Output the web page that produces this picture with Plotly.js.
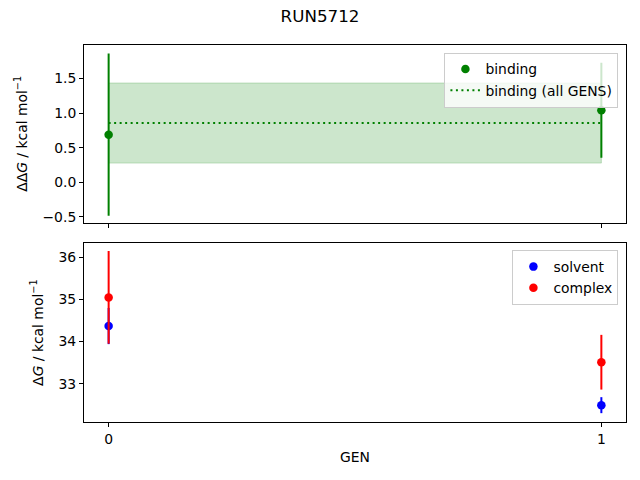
<!DOCTYPE html>
<html>
<head>
<meta charset="utf-8">
<script src="https://cdn.plot.ly/plotly-3.0.1.min.js"></script>
<style>
  body { margin: 0; background: #fff; }
  #myDiv { width: 640px; height: 480px; }
</style>
</head>
<body>
<div id="myDiv"></div>
<script>
// valores
const gens = [0, 1];

const binding = [0.687, 1.039];
const bindingErr = [1.17, 0.685];

// promedio de todas las GENS (línea punteada + banda)
const bindingAll = 0.855;
const bindingAllErr = 0.578;

const solvent = [34.37, 32.49];
const solventErr = [0.43, 0.19];
const complexDG = [35.05, 33.51];
const complexErr = [1.1, 0.65];

const fuente = "DejaVu Sans, sans-serif";
const tam = 13.9;

// banda de la media
const bandaSup = gens.map(() => bindingAll + bindingAllErr);
const bandaInf = gens.map(() => bindingAll - bindingAllErr);

const banda = {
  x: gens.concat(gens.slice().reverse()),
  y: bandaSup.concat(bandaInf.slice().reverse()),
  xaxis: "x2", yaxis: "y2",
  type: "scatter", mode: "lines",
  fill: "toself",
  fillcolor: "rgba(0,128,0,0.2)",
  line: { color: "rgba(0,128,0,0.2)", width: 1 },
  showlegend: false,
  hoverinfo: "skip"
};

const lineaMedia = {
  x: gens,
  y: gens.map(() => bindingAll),
  xaxis: "x2", yaxis: "y2",
  type: "scatter", mode: "lines",
  name: "binding (all GENS)",
  line: { color: "green", width: 2, dash: "2px,3.5px" },
  legend: "legend",
  legendrank: 2
};

const bind = {
  x: gens, y: binding,
  xaxis: "x2", yaxis: "y2",
  type: "scatter", mode: "markers",
  name: "binding",
  marker: { color: "green", size: 8.5 },
  error_y: { type: "data", array: bindingErr, visible: true, color: "green", thickness: 2, width: 0 },
  legend: "legend",
  legendrank: 1
};

const solv = {
  x: gens, y: solvent,
  xaxis: "x", yaxis: "y",
  type: "scatter", mode: "markers",
  name: "solvent",
  marker: { color: "blue", size: 8.5 },
  error_y: { type: "data", array: solventErr, visible: true, color: "blue", thickness: 2, width: 0 },
  legend: "legend2"
};

const comp = {
  x: gens, y: complexDG,
  xaxis: "x", yaxis: "y",
  type: "scatter", mode: "markers",
  name: "complex",
  marker: { color: "red", size: 8.5 },
  error_y: { type: "data", array: complexErr, visible: true, color: "red", thickness: 2, width: 0 },
  legend: "legend2"
};

const ejeComun = {
  showline: true, mirror: true, linecolor: "black", linewidth: 1,
  ticks: "outside", ticklen: 4, tickwidth: 1, tickcolor: "black",
  showgrid: false, zeroline: false,
  tickfont: { family: fuente, size: tam, color: "black" }
};

const estiloLeyenda = {
  xanchor: "right", yanchor: "top",
  bgcolor: "rgba(255,255,255,0.8)",
  bordercolor: "#cccccc", borderwidth: 1,
  font: { family: fuente, size: tam, color: "black" },
  tracegroupgap: 0
};

const layout = {
  width: 640, height: 480,
  paper_bgcolor: "white", plot_bgcolor: "white",
  margin: { l: 84, r: 14, t: 45, b: 58 },
  font: { family: fuente, color: "black" },
  title: { text: "RUN5712", x: 0.5, xanchor: "center", y: 0.967, yanchor: "middle", font: { family: fuente, size: 16.7, color: "black" } },
  showlegend: true,
  xaxis: Object.assign({}, ejeComun, {
    anchor: "y", domain: [0, 1],
    range: [-0.05, 1.05],
    tickvals: gens,
    ticktext: gens.map(String),
    title: { text: "GEN", font: { family: fuente, size: tam, color: "black" }, standoff: 6 }
  }),
  yaxis: Object.assign({}, ejeComun, {
    anchor: "x", domain: [0, 0.474],
    range: [32.09, 36.335],
    tickvals: [33, 34, 35, 36],
    title: { text: "Δ<i>G</i> / kcal mol<sup>−1</sup>", font: { family: fuente, size: tam, color: "black" }, standoff: 11 }
  }),
  xaxis2: Object.assign({}, ejeComun, {
    anchor: "y2", domain: [0, 1],
    matches: "x",
    range: [-0.05, 1.05],
    tickvals: gens,
    showticklabels: false
  }),
  yaxis2: Object.assign({}, ejeComun, {
    anchor: "x2", domain: [0.5286, 1],
    range: [-0.583, 1.981],
    tickvals: [-0.5, 0, 0.5, 1.0, 1.5],
    tickformat: ".1f",
    title: { text: "ΔΔ<i>G</i> / kcal mol<sup>−1</sup>", font: { family: fuente, size: tam, color: "black" }, standoff: 11 }
  }),
  legend: Object.assign({}, estiloLeyenda, { x: 0.986, y: 0.98 }),
  legend2: Object.assign({}, estiloLeyenda, { x: 0.986, y: 0.456 })
};

Plotly.newPlot("myDiv", [banda, lineaMedia, bind, solv, comp], layout, { displayModeBar: false });
</script>
</body>
</html>
